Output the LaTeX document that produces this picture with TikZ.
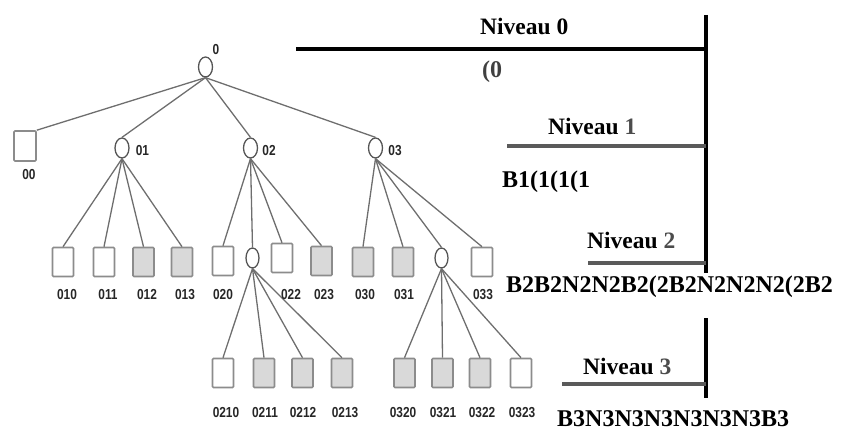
\documentclass[tikz,border=0pt]{standalone}
\usepackage{fontspec}
\setmainfont{Liberation Serif}
\newfontfamily\labfont[FakeStretch=0.82]{Liberation Sans}
\usetikzlibrary{shapes.geometric}
\definecolor{edgegray}{HTML}{6E6E6E}
\definecolor{boxgray}{HTML}{8C8C8C}
\definecolor{boxfill}{HTML}{D9D9D9}
\definecolor{circgray}{HTML}{555555}
\definecolor{bargray}{HTML}{5A5A5A}
\begin{document}
\begin{tikzpicture}[x=1pt,y=-1pt,
  leaf/.style={draw=boxgray, line width=1.6pt, fill=white, minimum width=21pt,
    minimum height=29pt, inner sep=0pt, rounded corners=1pt},
  shaded/.style={leaf, fill=boxfill},
  inner/.style={ellipse, draw=circgray, line width=1.3pt, fill=white,
    minimum width=14pt, minimum height=20pt, inner sep=0pt},
  edge/.style={draw=edgegray, line width=1.3pt},
  tag/.style={font=\labfont\bfseries\fontsize{14.5}{14.5}\selectfont, text=black!85, inner sep=0pt},
  level/.style={font=\bfseries\fontsize{23.5}{24}\selectfont, inner sep=0pt, anchor=base west},
  code/.style={font=\bfseries\fontsize{24}{24}\selectfont, inner sep=0pt, anchor=base west},
  blackbar/.style={line width=4pt, draw=black},
  graybar/.style={line width=4pt, draw=bargray}]
\useasboundingbox (0,0) rectangle (843,430);

% ---- tree nodes ----
\node[inner] (n0) at (205.5,67) {};
\node[leaf, minimum width=22pt, minimum height=30pt] (n00) at (25,146) {};
\node[inner] (n01) at (122,148) {};
\node[inner] (n02) at (250.5,148) {};
\node[inner] (n03) at (375.5,148) {};

\node[leaf]   (n010) at (63,262) {};
\node[leaf]   (n011) at (104,262) {};
\node[shaded] (n012) at (143.5,262) {};
\node[shaded] (n013) at (182,262) {};
\node[leaf]   (n020) at (223,261) {};
\node[inner, minimum width=13pt] (n021) at (252.5,258) {};
\node[leaf]   (n022) at (282,258) {};
\node[shaded] (n023) at (321.5,261) {};
\node[shaded] (n030) at (363,262) {};
\node[shaded] (n031) at (403,262) {};
\node[inner, minimum width=13pt] (n032) at (441.5,258) {};
\node[leaf]   (n033) at (482,262) {};

\node[leaf]   (n0210) at (223,373) {};
\node[shaded] (n0211) at (264,373) {};
\node[shaded] (n0212) at (302.5,373) {};
\node[shaded] (n0213) at (342,373) {};
\node[shaded] (n0320) at (404.5,373) {};
\node[shaded] (n0321) at (442.5,373) {};
\node[shaded] (n0322) at (480,373) {};
\node[leaf]   (n0323) at (521,373) {};

% ---- tree edges ----
\draw[edge] (n0.south) -- (n00.north east);
\foreach \c in {01,02,03} \draw[edge] (n0.south) -- (n\c.north);
\foreach \c in {010,011,012,013} \draw[edge] (n01.south) -- (n\c.north);
\foreach \c in {020,021,022,023} \draw[edge] (n02.south) -- (n\c.north);
\foreach \c in {030,031,032,033} \draw[edge] (n03.south) -- (n\c.north);
\foreach \c in {0210,0211,0212,0213} \draw[edge] (n021.south) -- (n\c.north);
\foreach \c in {0320,0321,0322,0323} \draw[edge] (n032.south) -- (n\c.north);

% ---- tree labels ----
\node[tag] (t0) at (216,50) {0};
\node[tag] (t00) at (29,175) {00};
\node[tag] (t01) at (142.5,151) {01};
\node[tag] (t02) at (269,151) {02};
\node[tag] (t03) at (395,151) {03};
\foreach \c/\x in {010/67,011/108,012/147,013/185,020/223,022/291,023/324,030/365,031/404,033/483}
  \node[tag] (t\c) at (\x,295) {\c};
\foreach \c/\x in {0210/226,0211/265,0212/303,0213/345,0320/403,0321/443,0322/482,0323/522}
  \node[tag] (t\c) at (\x,413) {\c};

% ---- level scale ----
\coordinate (vtop) at (706,15);
\coordinate (vmid) at (706,273);
\coordinate (vlow) at (706,318);
\coordinate (vbot) at (706,398);
\draw[blackbar] (vtop) -- (vmid);
\draw[blackbar] (vlow) -- (vbot);

\coordinate (h0) at (296,49);
\coordinate (h1) at (507,146);
\coordinate (h2) at (588,263);
\coordinate (h3) at (562,384);
\draw[blackbar] (h0) -- (h0 -| vtop);
\draw[graybar] (h1) -- (h1 -| vtop);
\draw[graybar] (h2) -- (h2 -| vtop);
\draw[graybar] (h3) -- (h3 -| vtop);

\node[level] (L0) at (480,35) {Niveau 0};
\node[level] (L1) at (548,135) {Niveau \textcolor{black!70}{1}};
\node[level] (L2) at (587,249) {Niveau \textcolor{black!70}{2}};
\node[level] (L3) at (583,374) {Niveau \textcolor{black!70}{3}};

\node[code, text=black!75] (c0) at (482,78) {(0};
\node[code] (c1) at (502,188) {B1(1(1(1};
\node[code] (c2) at (506,293) {B2B2N2N2B2(2B2N2N2N2(2B2};
\node[code] (c3) at (557,426) {B3N3N3N3N3N3N3B3};
\end{tikzpicture}
\end{document}
